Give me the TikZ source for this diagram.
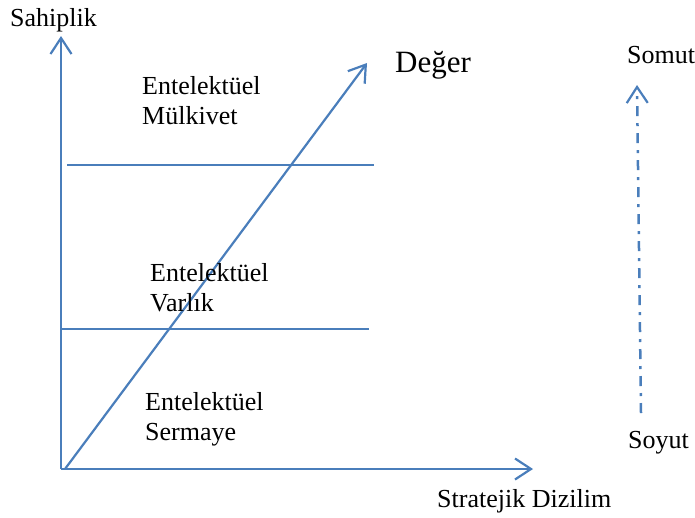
\documentclass[tikz,border=0pt]{standalone}
\usepackage{fontspec}
\setmainfont{Liberation Serif}
\usetikzlibrary{arrows.meta}
\definecolor{lineblue}{HTML}{4A7EBB}
\tikzset{
  axisline/.style={draw=lineblue, line width=2.2pt},
  barb/.style={-{Straight Barb[length=16pt,width=21pt,line width=2.2pt]}},
  lbl/.style={anchor=base west, inner sep=0pt, align=left, font=\fontsize{26}{30}\selectfont},
  biglbl/.style={anchor=base west, inner sep=0pt, font=\fontsize{31}{36}\selectfont},
  dashdot/.style={draw=lineblue, line width=2.5pt, dash pattern=on 10pt off 7pt on 3pt off 7pt}
}
\begin{document}
\begin{tikzpicture}[x=1pt,y=-1pt]
\useasboundingbox (0,0) rectangle (695,517);
% coordinates
\coordinate (O) at (61,469);
\coordinate (ytop) at (61,36);
\coordinate (xend) at (533,469);
\coordinate (dstart) at (65,469);
\coordinate (dend) at (367,63);
\coordinate (h1a) at (67,165);
\coordinate (h1b) at (374,165);
\coordinate (h2a) at (62,329);
\coordinate (h2b) at (369,329);
\coordinate (s1) at (641,413);
\coordinate (s2) at (637,85);
% axes
\draw[axisline, barb] (O) -- (ytop);
\draw[axisline, barb] (O) -- (xend);
\draw[axisline, barb] (dstart) -- (dend);
\draw[axisline] (h1a) -- (h1b);
\draw[axisline] (h2a) -- (h2b);
\draw[dashdot, -{Straight Barb[length=16pt,width=21pt,line width=2.2pt]}] (s1) -- (s2);
% labels (anchor is the baseline of the last line)
\node[lbl] (sahiplik) at (10,26) {Sahiplik};
\node[lbl] (mulk) at (142,124) {Entelektüel\\Mülkivet};
\node[biglbl] (deger) at (395,72) {Değer};
\node[lbl] (varlik) at (150,311) {Entelektüel\\Varlık};
\node[lbl] (sermaye) at (145,440) {Entelektüel\\Sermaye};
\node[lbl] (somut) at (627,63) {Somut};
\node[lbl] (soyut) at (628,448) {Soyut};
\node[lbl] (strat) at (437,507) {Stratejik Dizilim};
\end{tikzpicture}
\end{document}
